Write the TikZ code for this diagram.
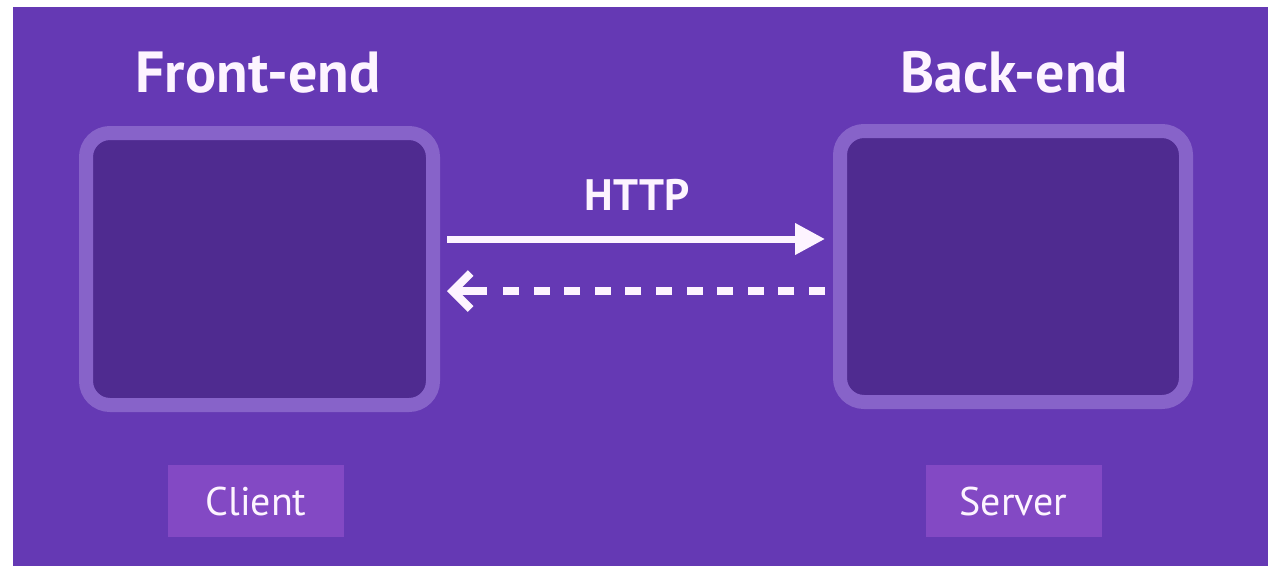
\documentclass[tikz,border=0pt]{standalone}
\usepackage{fontspec}
\setmainfont{PT Sans}
\usetikzlibrary{arrows.meta}
\definecolor{bg}{HTML}{6539B4}
\definecolor{rim}{HTML}{8763C9}
\definecolor{core}{HTML}{4F2B90}
\definecolor{tag}{HTML}{8349C4}
\definecolor{ink}{HTML}{FDF4FF}
\tikzset{
  panel/.style={rectangle, draw=rim, fill=core, line width=14pt, rounded corners=24pt, inner sep=0pt},
  tagbox/.style={rectangle, fill=tag, inner sep=0pt, minimum width=176pt, minimum height=72pt, text=ink, font=\fontsize{40}{40}\selectfont},
  heading/.style={text=ink, font=\bfseries\fontsize{58}{58}\selectfont, inner sep=0pt, anchor=base},
  link/.style={draw=ink, line width=7pt},
  backtip/.style={-{Straight Barb[length=18pt,width=36pt,line width=8pt]}},
}
\begin{document}
\begin{tikzpicture}[x=1pt,y=-1pt]
\fill[white] (0,0) rectangle (1268,566);
\fill[bg] (13,7) rectangle (1268,566);
\useasboundingbox (0,0) rectangle (1268,566);
\node[panel, minimum width=347pt, minimum height=272pt] (front) at (259.5,269) {};
\node[panel, minimum width=346pt, minimum height=271pt] (back) at (1013,266.5) {};
\node[heading] (fronttitle) at (258,92) {Front-end};
\node[heading] (backtitle) at (1014,92) {Back-end};
\node[heading, font=\bfseries\fontsize{44}{44}\selectfont] (http) at (637,210) {HTTP};
\node[tagbox] (client) at (256,501) {Client};
\node[tagbox] (server) at (1013.5,501) {Server};
\draw[link, -{Triangle[length=30pt,width=30pt]}] ([xshift=7pt,yshift=30pt]front.east) -- ([xshift=-8pt,yshift=27.5pt]back.west);
\coordinate (tipend) at ([xshift=7pt,yshift=-22pt]front.east);
\coordinate (stem) at ([xshift=47pt,yshift=-22pt]front.east);
\coordinate (dashend) at ([xshift=63pt,yshift=-22pt]front.east);
\coordinate (dashstart) at ([xshift=-8pt]back.west |- dashend);
\draw[link, line width=8pt, dash pattern=on 16pt off 14.6pt] (dashstart) -- (dashend);
\draw[link, line width=8pt, backtip] (stem) -- (tipend);
\end{tikzpicture}
\end{document}
